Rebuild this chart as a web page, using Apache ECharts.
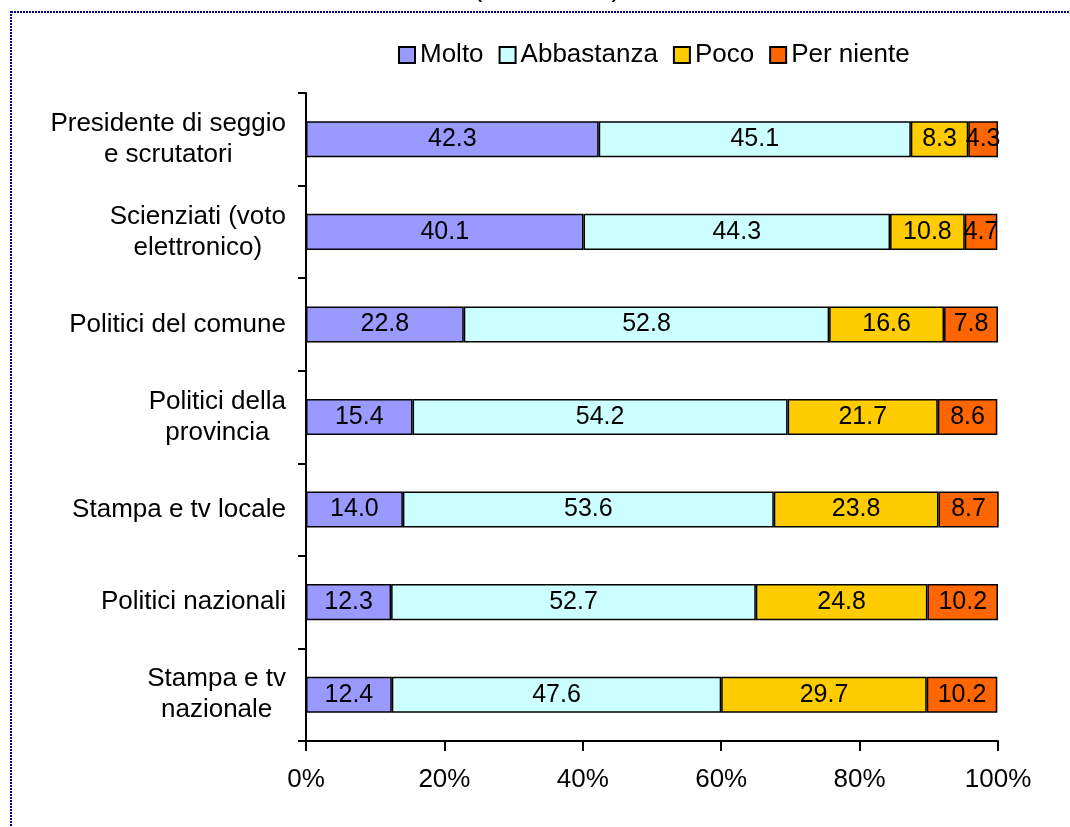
<!DOCTYPE html>
<html>
<head>
<meta charset="utf-8">
<script src="https://cdn.jsdelivr.net/npm/echarts@6/dist/echarts.min.js"></script>
<style>
html, body { margin: 0; padding: 0; background: #fff; }
#chart { width: 1070px; height: 827px; }
</style>
</head>
<body>
<div id="chart"></div>
<script>
// categorie (dall'alto verso il basso)
var categories = [
  'Presidente di seggio\ne scrutatori',
  'Scienziati (voto\nelettronico)',
  'Politici del comune',
  'Politici della\nprovincia',
  'Stampa e tv locale',
  'Politici nazionali',
  'Stampa e tv\nnazionale'
]
var seriesNames = ['Molto', 'Abbastanza', 'Poco', 'Per niente']
var molto = [42.3, 40.1, 22.8, 15.4, 14.0, 12.3, 12.4]
var abbastanza = [45.1, 44.3, 52.8, 54.2, 53.6, 52.7, 47.6]
var poco = [8.3, 10.8, 16.6, 21.7, 23.8, 24.8, 29.7]
var perNiente = [4.3, 4.7, 7.8, 8.6, 8.7, 10.2, 10.2]
var colors = ['#9999FF', '#CCFFFF', '#FFCC00', '#FF6600']

var font = '"Liberation Sans", Arial, sans-serif'
var allData = [molto, abbastanza, poco, perNiente]

var series = []
for (var i = 0; i < seriesNames.length; i++) {
  series.push({
    name: seriesNames[i],
    type: 'bar',
    stack: 'tot',
    barWidth: '39%',
    data: allData[i],
    itemStyle: {
      color: colors[i],
      borderColor: '#000',
      borderWidth: 1.5
    },
    label: {
      show: true,
      position: 'inside',
      color: '#000',
      fontFamily: font,
      fontSize: 25,
      formatter: function (p) {
        return p.value.toFixed(1)
      }
    },
    emphasis: { disabled: true }
  })
}

var chart = echarts.init(document.getElementById('chart'))
chart.setOption({
  animation: false,
  backgroundColor: '#fff',
  graphic: [
    {
      type: 'rect',
      shape: { x: 11, y: 12, width: 1100, height: 900 },
      style: { fill: 'none', stroke: '#000080', lineWidth: 2, lineDash: [2, 1] },
      silent: true
    },
    {
      // titolo tagliato in alto, si vedono solo le parentesi
      type: 'text',
      left: 473,
      top: -26,
      style: { text: '(valori in %)', font: '28px ' + font, fill: '#000' },
      silent: true
    }
  ],
  legend: {
    data: seriesNames,
    left: 393,
    top: 37,
    icon: 'rect',
    itemWidth: 16,
    itemHeight: 16,
    itemGap: 15,
    itemStyle: { borderColor: '#000', borderWidth: 2 },
    textStyle: { color: '#000', fontFamily: font, fontSize: 26 }
  },
  grid: {
    left: 306,
    right: 72,
    top: 93,
    bottom: 86
  },
  xAxis: {
    type: 'value',
    min: 0,
    max: 100,
    interval: 20,
    axisLine: { show: true, lineStyle: { color: '#000', width: 2 } },
    axisTick: { show: true, length: 10, lineStyle: { color: '#000', width: 2 } },
    splitLine: { show: false },
    axisLabel: {
      margin: 26,
      color: '#000',
      fontFamily: font,
      fontSize: 26,
      formatter: '{value}%'
    }
  },
  yAxis: {
    type: 'category',
    inverse: true,
    data: categories,
    axisLine: { show: true, lineStyle: { color: '#000', width: 2 } },
    axisTick: { show: true, length: 8, lineStyle: { color: '#000', width: 2 } },
    axisLabel: {
      margin: 20,
      align: 'right',
      formatter: function (v) {
        return v.split('\n').map(function (l) { return '{c|' + l + '}' }).join('\n')
      },
      rich: {
        c: {
          align: 'center',
          color: '#000',
          fontFamily: font,
          fontSize: 26,
          lineHeight: 31
        }
      }
    }
  },
  series: series
})
</script>
</body>
</html>
